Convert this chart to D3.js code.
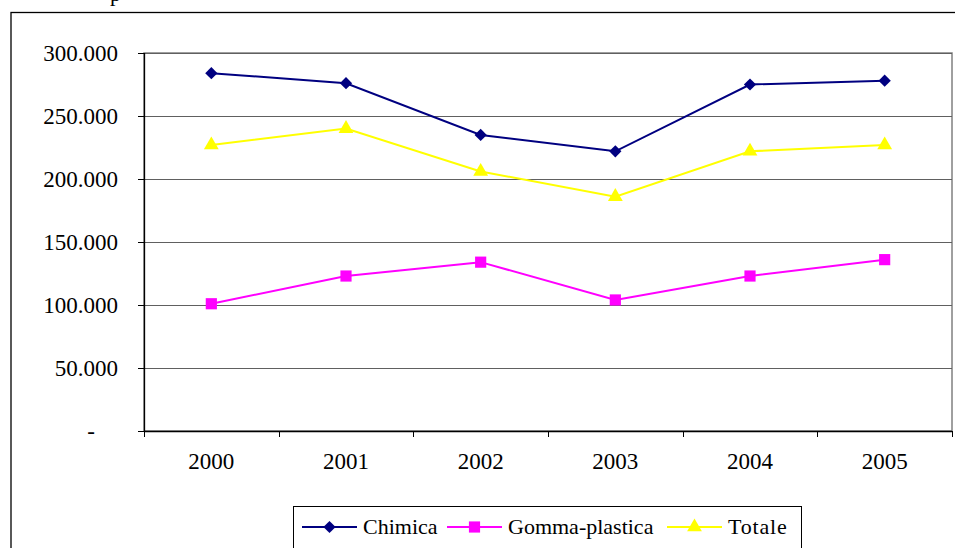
<!DOCTYPE html>
<html>
<head>
<meta charset="utf-8">
<script src="https://cdn.jsdelivr.net/npm/d3@7"></script>
<style>
  body { margin: 0; background: #fff; }
  svg text { font-family: "Liberation Serif", "DejaVu Serif", serif !important; fill: #000; }
</style>
</head>
<body>
<div id="chart"></div>
<script>
// values
const years = ["2000", "2001", "2002", "2003", "2004", "2005"];
const chimica = [284000, 276000, 235000, 222000, 275000, 278000];
const gomma = [101000, 123000, 134000, 104000, 123000, 136000];
const totale = [227000, 240000, 206000, 186000, 222000, 227000];
const yTicks = [0, 50000, 100000, 150000, 200000, 250000, 300000];

const series = [
    { name: "Chimica", values: chimica, color: "#000080", symbol: d3.symbolSquare, size: 75, rot: 45 },
    { name: "Gomma-plastica", values: gomma, color: "#ff00ff", symbol: d3.symbolSquare, size: 125, rot: 0 },
    { name: "Totale", values: totale, color: "#ffff00", symbol: d3.symbolTriangle, size: 95, rot: 0 }
];

const svg = d3.select("#chart").append("svg").attr("width", 955).attr("height", 548);
const margin = { top: 53, left: 144, right: 3, bottom: 117 };
const width = 955 - margin.left - margin.right;
const height = 548 - margin.top - margin.bottom;

// outer frame and clipped title descender
svg.append("rect").attr("x", 11).attr("y", 12.5).attr("width", 960).attr("height", 560)
    .attr("fill", "none").attr("stroke", "#000").attr("stroke-width", 1.3);
svg.append("text").attr("x", 110).attr("y", 1).attr("font-size", 22).text("p");

const x = d3.scaleBand().domain(years).range([0, width]);
const y = d3.scaleLinear().domain([0, 300000]).range([height, 0]);

const g = svg.append("g").attr("transform", `translate(${margin.left},${margin.top})`);

// plot area border + grid
g.append("rect").attr("x", 0).attr("y", 0).attr("width", width).attr("height", height)
    .attr("fill", "none").attr("stroke", "#808080").attr("stroke-width", 1.5);
g.selectAll(".grid").data(yTicks.filter(t => t > 0)).enter().append("line")
    .attr("x1", 0).attr("x2", width)
    .attr("y1", d => Math.round(y(d)) + 0.5).attr("y2", d => Math.round(y(d)) + 0.5)
    .attr("stroke", "#606060").attr("stroke-width", 1.2);

// axes
const fmt = d => d === 0 ? "-" : d3.format(",")(d).replace(/,/g, ".");
const yAxis = g.append("g").call(d3.axisLeft(y).tickValues(yTicks).tickSize(6).tickPadding(20).tickFormat(fmt));
yAxis.select(".domain").attr("stroke", "#000").attr("stroke-width", 1.3).attr("d", `M0.5,0V${height}`);
yAxis.selectAll(".tick line").attr("stroke", "#000");
yAxis.selectAll("text").attr("font-size", 23);
yAxis.selectAll(".tick").filter(d => d === 0).select("text").attr("x", -49);

const xAxis = g.append("g").attr("transform", `translate(0,${height})`)
    .call(d3.axisBottom(x).tickSize(0).tickPadding(22));
xAxis.select(".domain").attr("stroke", "#000").attr("stroke-width", 1.3).attr("d", `M0,0.5H${width}`);
xAxis.selectAll("text").attr("font-size", 23).attr("dy", null).attr("y", 38);
g.selectAll(".xtick").data(years.concat(["end"])).enter().append("line")
    .attr("x1", (d, i) => Math.round(i * x.bandwidth()) + 0.5)
    .attr("x2", (d, i) => Math.round(i * x.bandwidth()) + 0.5)
    .attr("y1", height).attr("y2", height + 6).attr("stroke", "#000");

// lines and markers
const line = d3.line().x((d, i) => x(years[i]) + x.bandwidth() / 2).y(d => y(d));
series.forEach(s => {
    g.append("path").datum(s.values).attr("fill", "none").attr("stroke", s.color)
        .attr("stroke-width", 2).attr("d", line);
    g.selectAll(null).data(s.values).enter().append("path")
        .attr("d", d3.symbol().type(s.symbol).size(s.size))
        .attr("transform", (d, i) => `translate(${x(years[i]) + x.bandwidth() / 2},${y(d)}) rotate(${s.rot})`)
        .attr("fill", s.color);
});

// legend
const legend = svg.append("g");
legend.append("rect").attr("x", 293.5).attr("y", 506.5).attr("width", 508).attr("height", 60)
    .attr("fill", "#fff").attr("stroke", "#000").attr("stroke-width", 1);
const legendX = [302, 447, 667];
series.forEach((s, i) => {
    const lg = legend.append("g").attr("transform", `translate(${legendX[i]},527)`);
    lg.append("line").attr("x1", 0).attr("x2", 55).attr("y1", 0).attr("y2", 0)
        .attr("stroke", s.color).attr("stroke-width", 2);
    lg.append("path").attr("d", d3.symbol().type(s.symbol).size(s.size))
        .attr("transform", `translate(27.5,0) rotate(${s.rot})`).attr("fill", s.color);
    lg.append("text").attr("x", 61).attr("y", 7).attr("font-size", 22)
        .attr("letter-spacing", s.name === "Totale" ? 0.8 : 0).text(s.name);
});
</script>
</body>
</html>
